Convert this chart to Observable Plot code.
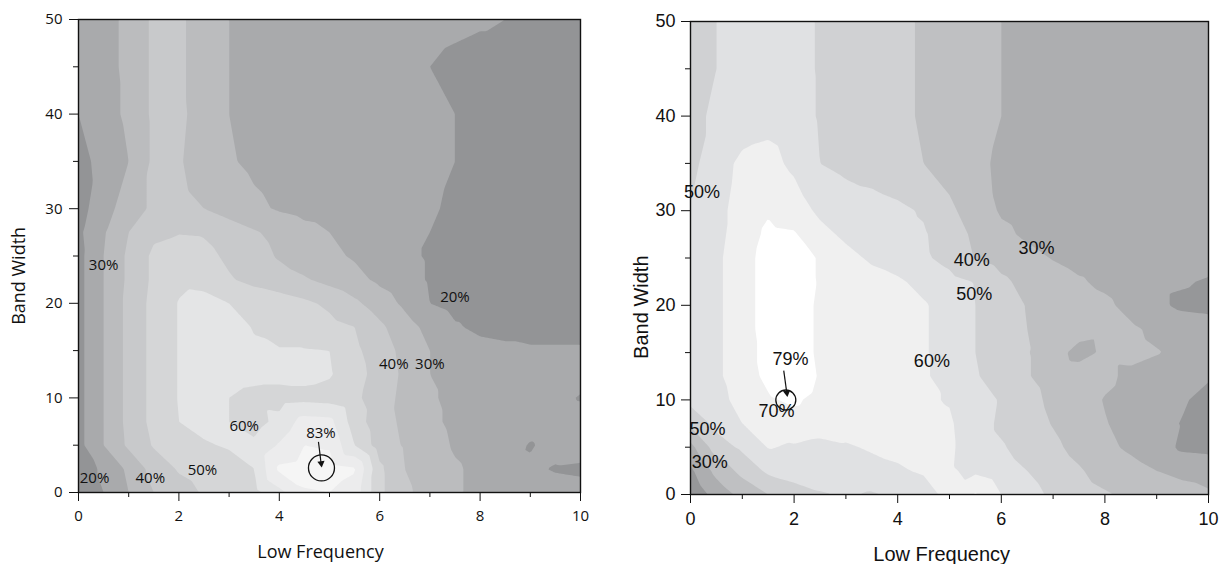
<!DOCTYPE html>
<html><head><meta charset="utf-8">
<script src="https://cdn.jsdelivr.net/npm/d3@7"></script>
<script src="https://cdn.jsdelivr.net/npm/@observablehq/plot@0.6"></script>
<style>
html,body{margin:0;padding:0;background:#fff;}
#wrap{position:relative;width:1223px;height:564px;overflow:hidden;background:#fff;}
#left{position:absolute;left:0;top:0;}
#right{position:absolute;left:611px;top:0;}
svg{overflow:visible;}
</style></head><body>
<div id="wrap"><div id="left"></div><div id="right"></div></div>
<script>
// grid columns (Low Frequency) and rows (Band Width, top to bottom)
const xs = [0,0.5,1,1.5,2,2.5,3,3.5,4,4.5,5,5.5,6,6.5,7,7.5,8,8.5,9,9.5,10];
const ys = [50,45,40,35,30,27.5,25,22.5,20,17.5,15,12.5,10,7.5,5,2.5,0];

// left panel: accuracy (%)
const leftGrid = [
 [24,27,32,42,42,35,30,27,26,25,25,25,24,24,23,22,21,20,18,17,16],
 [24,27,32,42,42,35,30,27,26,25,25,25,24,23,20,18,17,17,16,16,16],
 [20,26,32,42,42,36,30,27,26,25,25,24,24,23,22,20,17,17,16,16,16],
 [17,23,30,42,41,35,31,28,26,25,25,24,24,23,22,20,17,16,16,16,16],
 [16,26,35,42,43,40,36,32,29,27,26,25,24,23,21,18.5,17,16,16,16,16],
 [18,29,40,48,49.5,49,45,41,37,33,30,27,24,22,20,17.5,17,16,16,16,16],
 [17,30,42,52,55,53,48,44,39,35,32,29,25,22,19,17,16,16,16,16,16],
 [17,30,42,52,58,57,51,47,44,41,37,33,28,24,19,17,16,16,16,16,16],
 [17,30,43,53,60.5,63,60,57,55,52,48,42,35,28,20,17,16,16,16,16,16],
 [17,30,43,53,60.5,64,63,59.5,57,55,53,50,42,34,27,21,18,17,17,17,17],
 [17,30,43,53,60.5,64,63,61,60.5,60.5,60,52,45,37,30,26,23,22,21,21,21],
 [17,30,43,53,60.5,64,64,63,63,63,61,54,46,38,30,28,27,26,25,25,25],
 [17,30,43,53,60.5,64,60,57,56,57,56,52,45,37,31,28,27,26,25,24,19],
 [17,30,43,53,60,63,60,56,63,74,73,55,44,38,32,28,27,26,25,26,26],
 [17,30,42,51,55,59,61,62,71,80,79,60,45,39,34,29,27,26,19,24,26],
 [14,22,32,44,51,54,56,60,82,84,84,81,52,40,35,31,28,24,22,19,18],
 [14,20,30,40,46,51,54,57,67,79,80,76,52,42,36,31,28,27,26,25,24]
];

// right panel: accuracy (%)
const rightGrid = [
 [46,50,53,55,54,49,47,45,42,39,36,33,30,28,27,26,26,25,25,25,25],
 [46,50,53,55,54,49,47,45,42,39,36,33,30,28,27,26,26,25,25,25,25],
 [47,52,55,57,55,49,47,45,42,39,36,33,30,28,27,26,26,25,25,25,25],
 [47,56,62,63,58,50,47.5,45.5,43,40,36,32,28.5,27,26,26,25,25,25,25,25],
 [50.5,57,64,69,65,58,55,54,52,49,42,35,29,27,26,25.5,25,25,25,25,25],
 [50,57,65,72,71,63,58,55,53,51,45,38,32,28.5,27,26,25.5,25,25,25,25],
 [51,58,66,74,75,69,63,58.5,55,51.5,47,39.5,36,33,29.5,27,26,25,25,24.5,24],
 [51,58,66,74,76,69,66,63.5,61.5,57,53,49.5,42,37,34,31,28,25,22,21,19],
 [51,58,66,74,76,68,65,63,62,61,56,50,45,39.5,36,34,32,27,22,18,17],
 [51,58,66,74,76,68,65,63,62,61,56,50,45,40,37,35,33,31.5,28,26,25],
 [51,58,66,73,76,68,65,63,62,61,56,50,45,40.5,35,26,32,32.5,30.5,28,27],
 [51,58,66,72,77,69,65,63,62,61,57,51,45,40.5,37,36,32,28,26,24,21],
 [53,57,63,69,71.5,67,64.5,63,62,61,59.5,55,49,43,38,34,29.5,27,25,21,17],
 [42,53,60,64,66,65,64,63,62.5,62,61,55,48,44,39.5,35,30.5,27,23,19.5,16],
 [27,45,52,60.5,59,57,59,61,62,62,61.5,55,51,46,42,37,32,28.5,25,18,17],
 [18,33,43,52,55,56,56,57,59,61,61,58,54,50,45,41,36,33,30,28,27],
 [12,24,33,40,45,49,51,49,52,56,63,71,60,54,48,44,41,38,35,33,31]
];

// contour levels and gray shades
const leftThresholds = [20,30,40,50,60,70,80];
const leftColors = ["#a9aaac","#bbbcbe","#c8c9cb","#d5d6d7","#e4e5e6","#ececed","#f5f5f5"];
const leftBase = "#939496";
const rightThresholds = [20,30,40,50,60,70];
const rightColors = ["#adaeb0","#bfc0c2","#d0d1d3","#e0e1e3","#f0f0f0","#ffffff"];
const rightBase = "#969799";

// tick values
const majorX = [0,2,4,6,8,10];
const minorX = [1,3,5,7,9];
const majorY = [0,10,20,30,40,50];
const minorY = [5,15,25,35,45];

// annotations
const leftLabels = [
 {t:"30%", x:0.5, y:24.0}, {t:"20%", x:7.5, y:20.6}, {t:"40%", x:6.28, y:13.6},
 {t:"30%", x:7.0, y:13.6}, {t:"83%", x:4.83, y:6.3}, {t:"60%", x:3.3, y:7.0},
 {t:"50%", x:2.47, y:2.4}, {t:"40%", x:1.43, y:1.55}, {t:"20%", x:0.32, y:1.55}
];
const rightLabels = [
 {t:"50%", x:0.22, y:31.9}, {t:"40%", x:5.43, y:24.8}, {t:"30%", x:6.68, y:26.0},
 {t:"50%", x:5.48, y:21.2}, {t:"60%", x:4.66, y:14.1}, {t:"79%", x:1.93, y:14.3},
 {t:"70%", x:1.66, y:8.8}, {t:"50%", x:0.33, y:6.9}, {t:"30%", x:0.37, y:3.4}
];
const leftCircle = {x:4.84, y:2.6, r:13};
const leftArrow = {x1:4.78, y1:5.35, x2:4.83, y2:3.2};
const leftHead = {x:4.835, y:3.08, a:173};
const rightCircle = {x:1.84, y:9.99, r:10};
const rightArrow = {x1:1.80, y1:13.1, x2:1.855, y2:10.9};
const rightHead = {x:1.86, y:10.75, a:172};
// axis titles (data coordinates of their centres)
const leftTitles = {xt: {x:4.82, y:-6.3}, yt: {x:-1.18, y:22.9}};
const rightTitles = {xt: {x:4.85, y:-6.3}, yt: {x:-0.94, y:19.8}};

function toPoints(grid) {
  return grid.flatMap((row, i) => row.map((v, j) => ({x: xs[j], y: ys[i], v})));
}

function panel(o) {
  return Plot.plot({
    width: o.W, height: 564,
    marginLeft: o.ml, marginRight: o.mr, marginTop: o.mt, marginBottom: o.mb,
    x: {domain: [0, 10]},
    y: {domain: [0, 50]},
    color: {type: "ordinal", domain: o.thresholds, range: o.colors},
    style: {fontFamily: o.font, color: "#111", background: "transparent", overflow: "visible"},
    marks: [
      Plot.frame({fill: o.base, stroke: "none"}),
      Plot.contour(toPoints(o.grid), {
        x: "x", y: "y", fill: "v", interpolate: "barycentric",
        thresholds: o.thresholds, x1: 0, x2: 10, y1: 0, y2: 50, stroke: "none"
      }),
      Plot.axisX({ticks: majorX, tickSize: 9, tickPadding: 9, fontSize: o.tickFont, label: null, tickFormat: d => String(d)}),
      Plot.axisX({ticks: minorX, tickSize: 5, tickFormat: () => "", label: null}),
      Plot.axisY({ticks: majorY, tickSize: 9, tickPadding: o.yPad, fontSize: o.tickFont, label: null, tickFormat: d => String(d)}),
      Plot.axisY({ticks: minorY, tickSize: 5, tickFormat: () => "", label: null}),
      Plot.frame({stroke: "#111", strokeWidth: 1.4}),
      Plot.text(o.labels, {x: "x", y: "y", text: "t", fontSize: o.labelFont, fill: "#111"}),
      Plot.dot([o.circle], {x: "x", y: "y", r: o.circle.r, stroke: "#111", strokeWidth: 1.3, fill: "none"}),
      Plot.link([o.arrow], {x1: "x1", y1: "y1", x2: "x2", y2: "y2", stroke: "#111", strokeWidth: 1.2}),
      Plot.dot([o.head], {x: "x", y: "y", symbol: "triangle", r: 2.7, fill: "#111", stroke: "none", rotate: o.head.a}),
      Plot.text([o.titles.xt], {x: "x", y: "y", text: () => "Low Frequency", fontSize: o.titleFont, fill: "#111"}),
      Plot.text([o.titles.yt], {x: "x", y: "y", text: () => "Band Width", rotate: -90, fontSize: o.titleFont, fill: "#111"})
    ]
  });
}

document.getElementById("left").append(panel({
  W: 611, ml: 78, mr: 31, mt: 19, mb: 72,
  grid: leftGrid, thresholds: leftThresholds, colors: leftColors, base: leftBase,
  font: "'Open Sans', 'Noto Sans', sans-serif", tickFont: 15, labelFont: 15, titleFont: 18, yPad: 7,
  labels: leftLabels, circle: leftCircle, arrow: leftArrow, head: leftHead, titles: leftTitles
}));

document.getElementById("right").append(panel({
  W: 612, ml: 79, mr: 15, mt: 21, mb: 70,
  grid: rightGrid, thresholds: rightThresholds, colors: rightColors, base: rightBase,
  font: "'Liberation Sans', Arial, sans-serif", tickFont: 18, labelFont: 18, titleFont: 20, yPad: 6,
  labels: rightLabels, circle: rightCircle, arrow: rightArrow, head: rightHead, titles: rightTitles
}));
</script></body></html>
